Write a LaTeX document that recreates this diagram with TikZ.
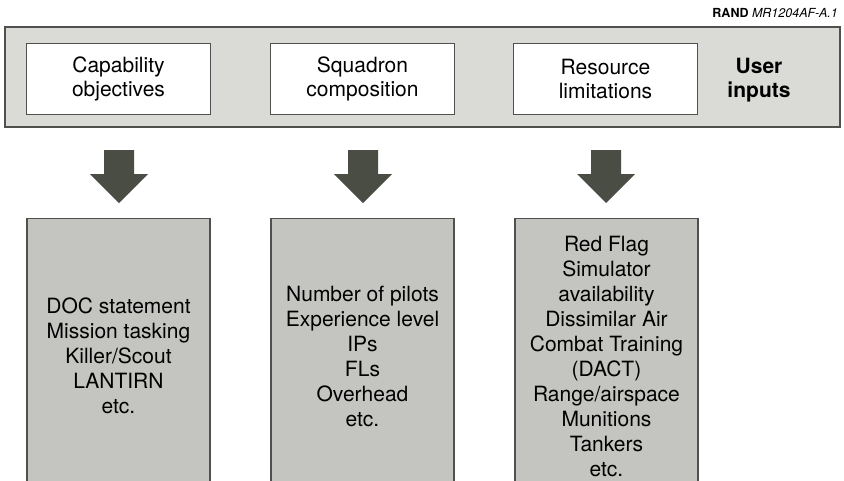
\documentclass[tikz,border=0pt]{standalone}
\usepackage{fontspec}
\setmainfont{TeX Gyre Heros}
\definecolor{panelgray}{RGB}{218,218,214}
\definecolor{boxgray}{RGB}{196,196,192}
\definecolor{edgegray}{RGB}{80,80,78}
\definecolor{arrowcol}{RGB}{74,77,68}
\tikzset{
  panel/.style={draw=edgegray, line width=1.5pt, fill=panelgray},
  inbox/.style={draw=edgegray, line width=1.3pt, fill=white, minimum width=184pt, minimum height=71pt, inner sep=0pt, align=center, font=\fontsize{21}{24}\selectfont},
  botbox/.style={draw=edgegray, line width=1.3pt, fill=boxgray, minimum width=183pt, minimum height=275pt, inner sep=0pt, anchor=north, align=center, font=\fontsize{21}{25}\selectfont},
  usertext/.style={align=center, font=\bfseries\fontsize{21}{24}\selectfont},
  bigarrow/.pic={\fill[arrowcol] (-15,0) -- (15,0) -- (15,24) -- (29,24) -- (0,53) -- (-29,24) -- (-15,24) -- cycle;}
}
\begin{document}
\begin{tikzpicture}[x=1pt,y=-1pt]
\clip (0,0) rectangle (844,480);
\fill[white] (0,0) rectangle (844,480);
\node[anchor=base east, inner sep=0pt, font=\fontsize{12.5}{14}\selectfont] (code) at (838,17) {\textbf{RAND} \textit{MR1204AF-A.1}};
\node[panel, minimum width=835pt, minimum height=100pt, inner sep=0pt] (panel) at (422.5,77) {};
\node[inbox] (cap) at (118.5,79) {Capability\\objectives};
\node[inbox] (squad) at (362.5,79) {Squadron\\composition};
\node[inbox] (res) at (605.5,79) {Resource\\limitations};
\node[usertext] (user) at (759,80) {User\\inputs};
\coordinate (a1) at (119,150);
\coordinate (a2) at (363,150);
\coordinate (a3) at (606,150);
\pic at (a1) {bigarrow};
\pic at (a2) {bigarrow};
\pic at (a3) {bigarrow};
\node[botbox] (capd) at (118.5,218) {DOC statement\\Mission tasking\\Killer/Scout\\LANTIRN\\etc.};
\node[botbox] (squadd) at (362.5,218) {Number of pilots\\Experience level\\IPs\\FLs\\Overhead\\etc.};
\node[botbox] (resd) at (606.5,218) {Red Flag\\Simulator\\availability\\Dissimilar Air\\Combat Training\\(DACT)\\Range/airspace\\Munitions\\Tankers\\etc.};
\end{tikzpicture}
\end{document}
